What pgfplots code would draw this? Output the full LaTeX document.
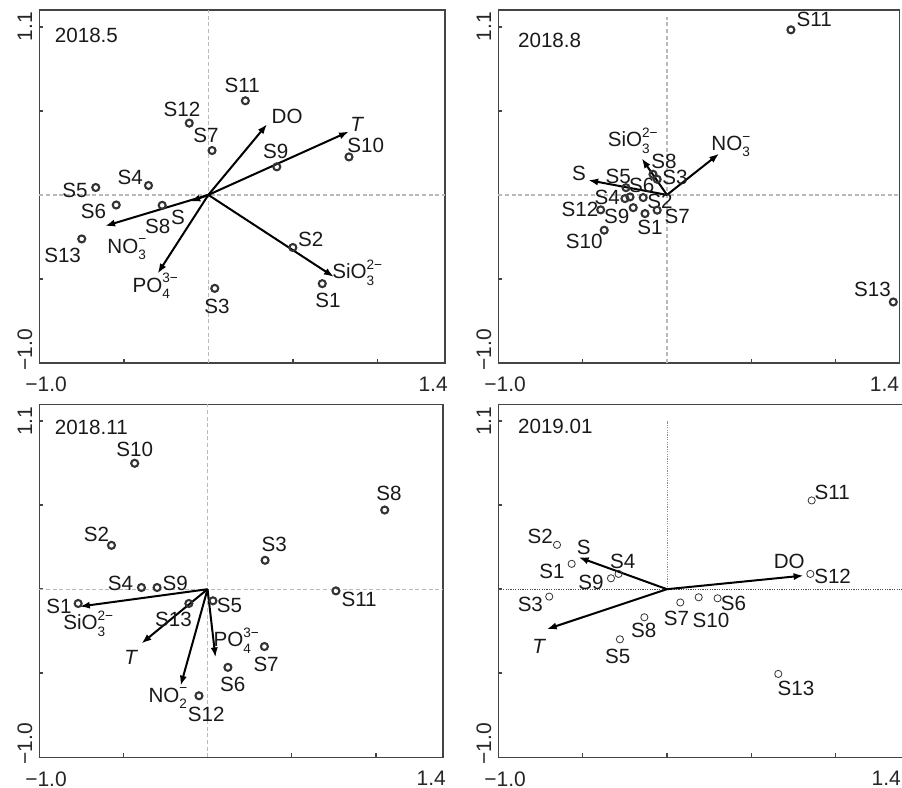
\documentclass[border=0pt]{standalone}
\usepackage{fontspec}
\setmainfont{Liberation Sans}
\usepackage{pgfplots}
\pgfplotsset{compat=1.18}
\usetikzlibrary{arrows.meta}
\newcommand{\sups}{\fontsize{6.8}{7}\selectfont}
\newcommand{\ion}[3]{#1\rlap{\raisebox{-0.6ex}{\sups #2}}\raisebox{0.85ex}{\sups #3}}
\definecolor{frame}{HTML}{444444}
\definecolor{ptc}{HTML}{333333}
\pgfplotsset{
  rda/.style={
    scale only axis, clip=false,
    xmin=-1, xmax=1.4, ymin=-1, ymax=1.1,
    axis line style={frame, line width=0.75pt},
    xtick={-0.5,0,0.5,1}, ytick={-0.5,0,0.5,1},
    xticklabels={}, yticklabels={},
    tick pos=left,
    tick align=inside, major tick length=2pt,
    tick style={frame, line width=0.75pt},
    extra x ticks={-0.96,1.33}, extra x tick labels={−1.0,1.4},
    extra y ticks={-0.92,1.0}, extra y tick labels={−1.0,1.1},
    extra tick style={major tick length=0pt},
    ticklabel style={font=\fontsize{10.5}{12}\selectfont, text=black!85},
    xticklabel style={yshift=-3.5pt},
    yticklabel style={rotate=90, anchor=south, xshift=0pt},
    /pgf/number format/assume math mode=true,
  },
  zl/.style={gray!55, line width=0.6pt, dash pattern=on 2pt off 1.3pt},
  zl4/.style={black!70, line width=0.35pt, dash pattern=on 0.6pt off 0.6pt},
  zl4v/.style={black!45, line width=0.35pt, dash pattern=on 0.6pt off 0.6pt},
  pts/.style={only marks, mark=o, mark size=1.75pt, mark options={line width=1.05pt, draw=ptc}},
  pts4/.style={only marks, mark=o, mark size=1.8pt, mark options={line width=0.4pt, draw=ptc}},
  arr/.style={black, line width=1pt, -{Latex[length=5pt,width=3.6pt]}},
}
\tikzset{lab/.style={font=\fontsize{10.3}{12}\selectfont, inner sep=0pt, text=black!90}}
\begin{document}
\begin{tikzpicture}
\path[use as bounding box] (0,0) rectangle (451pt,394pt);
% ---------------- 2018.5 ----------------
\begin{axis}[rda, at={(19.65pt,212.5pt)}, anchor=south west, width=202.85pt, height=176.5pt]
\addplot[zl] coordinates {(-1,0) (1.4,0)};
\addplot[zl] coordinates {(0,-1) (0,1.1)};
\addplot[pts] coordinates {
(0.674,-0.528) (0.500,-0.313) (0.038,-0.556) (-0.354,0.056) (-0.666,0.044)
(-0.545,-0.060) (0.022,0.264) (-0.273,-0.062) (0.405,0.167) (0.832,0.226)
(0.219,0.560) (-0.113,0.427) (-0.749,-0.262)};
\addplot[arr] coordinates {(0,0) (0.348,0.421)};
\addplot[arr] coordinates {(0,0) (0.832,0.377)};
\addplot[arr] coordinates {(0,0) (0.743,-0.488)};
\addplot[arr] coordinates {(0,0) (-0.300,-0.468)};
\addplot[arr] coordinates {(0,0) (-0.611,-0.185)};
\addplot[arr] coordinates {(0,0) (-0.107,-0.040)};
\node[lab, anchor=west] at (axis cs:-0.91,0.946) {2018.5};
\node[lab] at (axis cs:0.200,0.649) {S11};
\node[lab] at (axis cs:0.466,0.466) {DO};
\node[lab] at (axis cs:0.881,0.421) {\textit{T}};
\node[lab] at (axis cs:-0.156,0.506) {S12};
\node[lab] at (axis cs:-0.014,0.351) {S7};
\node[lab] at (axis cs:0.399,0.256) {S9};
\node[lab] at (axis cs:0.931,0.292) {S10};
\node[lab] at (axis cs:-0.462,0.107) {S4};
\node[lab] at (axis cs:-0.789,0.028) {S5};
\node[lab] at (axis cs:-0.680,-0.099) {S6};
\node[lab] at (axis cs:-0.300,-0.185) {S8};
\node[lab] at (axis cs:-0.180,-0.131) {S};
\node[lab] at (axis cs:-0.862,-0.357) {S13};
\node[lab] at (axis cs:-0.482,-0.323) {\ion{NO}{3}{−}};
\node[lab] at (axis cs:-0.314,-0.542) {\ion{PO}{4}{3−}};
\node[lab] at (axis cs:0.051,-0.661) {S3};
\node[lab] at (axis cs:0.605,-0.264) {S2};
\node[lab] at (axis cs:0.881,-0.462) {\ion{SiO}{3}{2−}};
\node[lab] at (axis cs:0.708,-0.625) {S1};
\end{axis}
% ---------------- 2018.8 ----------------
\begin{axis}[rda, at={(249.15pt,212.5pt)}, anchor=south west, width=200.7pt, height=176.5pt, xmax=1.38, extra x ticks={-0.96,1.29}]
\addplot[zl] coordinates {(-1,0) (1.38,0)};
\addplot[zl] coordinates {(0,-1) (0,1.06)};
\addplot[pts] coordinates {
(-0.130,-0.111) (-0.141,-0.016) (-0.058,0.093) (-0.249,-0.022) (-0.243,0.043)
(-0.219,-0.012) (-0.058,-0.091) (-0.083,0.123) (-0.200,-0.076) (-0.372,-0.210)
(0.735,0.982) (-0.393,-0.089) (1.342,-0.637)};
\addplot[arr] coordinates {(0,0) (-0.467,0.088)};
\addplot[arr] coordinates {(0,0) (-0.150,0.218)};
\addplot[arr] coordinates {(0,0) (0.310,0.246)};
\node[lab, anchor=west] at (axis cs:-0.885,0.917) {2018.8};
\node[lab] at (axis cs:0.873,1.046) {S11};
\node[lab] at (axis cs:1.219,-0.561) {S13};
\node[lab] at (axis cs:-0.203,0.321) {\ion{SiO}{3}{2−}};
\node[lab] at (axis cs:0.379,0.288) {\ion{NO}{3}{−}};
\node[lab] at (axis cs:-0.018,0.198) {S8};
\node[lab] at (axis cs:0.047,0.103) {S3};
\node[lab] at (axis cs:-0.522,0.129) {S};
\node[lab] at (axis cs:-0.289,0.109) {S5};
\node[lab] at (axis cs:-0.150,0.058) {S6};
\node[lab] at (axis cs:-0.354,-0.016) {S4};
\node[lab] at (axis cs:-0.042,-0.036) {S2};
\node[lab] at (axis cs:-0.516,-0.089) {S12};
\node[lab] at (axis cs:-0.298,-0.125) {S9};
\node[lab] at (axis cs:0.061,-0.125) {S7};
\node[lab] at (axis cs:-0.101,-0.195) {S1};
\node[lab] at (axis cs:-0.490,-0.278) {S10};
\end{axis}
% ---------------- 2018.11 ----------------
\begin{axis}[rda, at={(19.65pt,15.35pt)}, anchor=south west, width=201.9pt, height=176.5pt]
\addplot[zl] coordinates {(-1,0) (1.4,0)};
\addplot[zl] coordinates {(0,-1) (0,1.1)};
\addplot[pts] coordinates {
(-0.769,-0.085) (-0.571,0.261) (0.342,0.172) (-0.393,0.010) (0.032,-0.069)
(0.121,-0.465) (0.338,-0.341) (1.053,0.471) (-0.300,0.010) (-0.433,0.749)
(0.763,-0.010) (-0.051,-0.634) (-0.111,-0.085)};
\addplot[arr] coordinates {(0,0) (-0.759,-0.103)};
\addplot[arr] coordinates {(0,0) (-0.393,-0.323)};
\addplot[arr] coordinates {(0,0) (-0.160,-0.574)};
\addplot[arr] coordinates {(0,0) (0.047,-0.406)};
\node[lab, anchor=west] at (axis cs:-0.91,0.960) {2018.11};
\node[lab] at (axis cs:-0.433,0.832) {S10};
\node[lab] at (axis cs:1.079,0.568) {S8};
\node[lab] at (axis cs:-0.660,0.327) {S2};
\node[lab] at (axis cs:0.397,0.267) {S3};
\node[lab] at (axis cs:-0.518,0.034) {S4};
\node[lab] at (axis cs:-0.192,0.034) {S9};
\node[lab] at (axis cs:0.901,-0.059) {S11};
\node[lab] at (axis cs:-0.883,-0.101) {S1};
\node[lab] at (axis cs:-0.709,-0.204) {\ion{SiO}{3}{2−}};
\node[lab] at (axis cs:-0.202,-0.180) {S13};
\node[lab] at (axis cs:0.130,-0.099) {S5};
\node[lab] at (axis cs:0.170,-0.307) {\ion{PO}{4}{3−}};
\node[lab] at (axis cs:-0.453,-0.406) {\textit{T}};
\node[lab] at (axis cs:0.348,-0.446) {S7};
\node[lab] at (axis cs:0.150,-0.568) {S6};
\node[lab] at (axis cs:-0.235,-0.648) {\ion{NO}{2}{−}};
\node[lab] at (axis cs:-0.008,-0.747) {S12};
\end{axis}
% ---------------- 2019.01 ----------------
\begin{axis}[rda, at={(249.15pt,15.35pt)}, anchor=south west, width=202.4pt, height=176.5pt, extra x ticks={-0.96,1.30}]
\addplot[zl4] coordinates {(-1,0) (1.4,0)};
\addplot[zl4v] coordinates {(0,0) (0,1.0)};
\addplot[pts4] coordinates {
(-0.565,0.151) (-0.652,0.264) (-0.698,-0.044) (-0.287,0.091) (-0.279,-0.298)
(0.300,-0.054) (0.079,-0.079) (-0.134,-0.167) (-0.332,0.065) (0.188,-0.048)
(0.858,0.528) (0.850,0.091) (0.660,-0.504)};
\addplot[arr] coordinates {(0,0) (-0.524,0.190)};
\addplot[arr] coordinates {(0,0) (-0.713,-0.238)};
\addplot[arr] coordinates {(0,0) (0.810,0.081)};
\node[lab, anchor=west] at (axis cs:-0.885,0.968) {2019.01};
\node[lab] at (axis cs:0.980,0.575) {S11};
\node[lab] at (axis cs:-0.751,0.317) {S2};
\node[lab] at (axis cs:-0.494,0.250) {S};
\node[lab] at (axis cs:-0.263,0.165) {S4};
\node[lab] at (axis cs:-0.682,0.105) {S1};
\node[lab] at (axis cs:-0.451,0.040) {S9};
\node[lab] at (axis cs:0.725,0.165) {DO};
\node[lab] at (axis cs:0.982,0.079) {S12};
\node[lab] at (axis cs:-0.810,-0.093) {S3};
\node[lab] at (axis cs:0.057,-0.173) {S7};
\node[lab] at (axis cs:0.261,-0.183) {S10};
\node[lab] at (axis cs:0.395,-0.087) {S6};
\node[lab] at (axis cs:-0.138,-0.246) {S8};
\node[lab] at (axis cs:-0.757,-0.341) {\textit{T}};
\node[lab] at (axis cs:-0.292,-0.397) {S5};
\node[lab] at (axis cs:0.765,-0.589) {S13};
\end{axis}
\end{tikzpicture}
\end{document}
